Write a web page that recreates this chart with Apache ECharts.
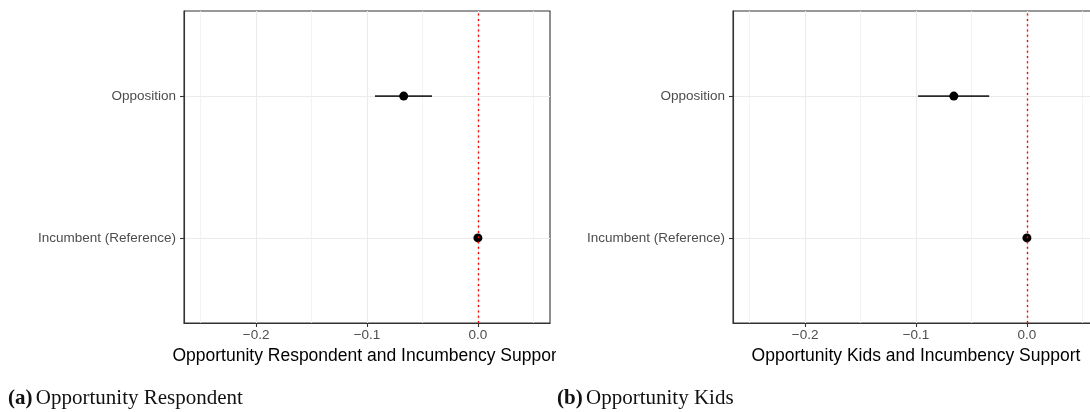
<!DOCTYPE html>
<html>
<head>
<meta charset="utf-8">
<script src="https://cdn.jsdelivr.net/npm/echarts@6/dist/echarts.min.js"></script>
<style>
html,body{margin:0;padding:0;background:#fff;}
#chart{width:1090px;height:412px;}
</style>
</head>
<body>
<div id="chart"></div>
<script>
// ---- data ----
var categories = ["Incumbent (Reference)", "Opposition"];
var respEstimate = [0, -0.0669];
var respLower = [0, -0.0928];
var respUpper = [0, -0.0414];
var kidsEstimate = [0, -0.0659];
var kidsLower = [0, -0.0981];
var kidsUpper = [0, -0.0340];
var xMajorTicks = [-0.2, -0.1, 0.0];
var xMinorTicks = [-0.25, -0.15, -0.05, 0.05];
var xLimits = [-0.265, 0.065];
var titles = ["Opportunity Respondent and Incumbency Support", "Opportunity Kids and Incumbency Support"];
var captionTags = ["(a)", "(b)"];
var captions = ["Opportunity Respondent", "Opportunity Kids"];
var refLine = 0;

var catPos = categories.map(function (c, i) { return i + 1; });

var chart = echarts.init(document.getElementById('chart'), null, {renderer: 'canvas'});

var axisTextColor = '#4d4d4d';
var axisFont = 'Liberation Sans, Arial, sans-serif';

function fmtTick(v) {
  var s = Number(v).toFixed(1);
  return s.replace('-', '\u2212');
}

var grids = [
  {left: 184, top: 11, width: 366, height: 312},
  {left: 733, top: 11, width: 366, height: 312}
];

var xAxes = [], yAxes = [], series = [];
var panelData = [
  {est: respEstimate, lo: respLower, hi: respUpper},
  {est: kidsEstimate, lo: kidsLower, hi: kidsUpper}
];

grids.forEach(function (g, p) {
  g.show = true;
  g.borderColor = '#333333';
  g.borderWidth = 1.1;
  g.backgroundColor = '#ffffff';
  g.containLabel = false;
  g.outerBoundsMode = 'none';
  xAxes.push({
    type: 'value', gridIndex: p, min: xLimits[0], max: xLimits[1],
    position: 'bottom',
    axisLine: {show: true, onZero: false, lineStyle: {color: '#333333', width: 1.1}},
    axisTick: {show: true, length: 4, customValues: xMajorTicks, lineStyle: {color: '#333333', width: 1.1}},
    axisLabel: {show: true, customValues: xMajorTicks, formatter: fmtTick, color: axisTextColor,
      fontFamily: axisFont, fontSize: 13.5, margin: 5},
    splitLine: {show: true, lineStyle: {color: '#ebebeb', width: 1.1}},
    name: titles[p], nameLocation: 'middle', nameGap: 20,
    nameTextStyle: {color: '#000000', fontFamily: axisFont, fontSize: 17.5}
  });
  xAxes.push({
    type: 'value', gridIndex: p, min: xLimits[0], max: xLimits[1],
    position: 'top',
    axisLine: {show: false},
    axisTick: {show: false, customValues: xMinorTicks},
    axisLabel: {show: false, customValues: xMinorTicks},
    splitLine: {show: true, lineStyle: {color: '#f0f0f0', width: 0.8}}
  });
  yAxes.push({
    type: 'value', gridIndex: p, min: 0.4, max: 2.6,
    axisLine: {show: true, onZero: false, lineStyle: {color: '#333333', width: 1.1}},
    axisTick: {show: true, length: 4, customValues: catPos, lineStyle: {color: '#333333', width: 1.1}},
    axisLabel: {show: true, customValues: catPos, color: axisTextColor, fontFamily: axisFont, fontSize: 13.5, margin: 8,
      formatter: function (v) { return categories[Math.round(v) - 1] || ''; }},
    splitLine: {show: true, lineStyle: {color: '#ebebeb', width: 1.1}}
  });

  var d = panelData[p];
  var barData = catPos.map(function (y, i) { return [d.lo[i], d.hi[i], y]; });
  var ptData = catPos.map(function (y, i) { return [d.est[i], y]; });

  series.push({
    type: 'custom', xAxisIndex: p * 2, yAxisIndex: p, z: 2,
    data: barData,
    encode: {x: [0, 1], y: 2},
    renderItem: function (params, api) {
      var a = api.coord([api.value(0), api.value(2)]);
      var b = api.coord([api.value(1), api.value(2)]);
      return {type: 'line', shape: {x1: a[0], y1: a[1], x2: b[0], y2: b[1]},
        style: {stroke: '#2a2a2a', lineWidth: 1.8}};
    },
    silent: true
  });
  series.push({
    type: 'scatter', xAxisIndex: p * 2, yAxisIndex: p, z: 3,
    data: ptData, symbol: 'circle', symbolSize: 9,
    itemStyle: {color: '#000000', opacity: 1}, silent: true
  });
  series.push({
    type: 'scatter', xAxisIndex: p * 2, yAxisIndex: p, z: 4,
    data: [],
    markLine: {
      silent: true, symbol: ['none', 'none'], label: {show: false},
      lineStyle: {color: '#ff0000', type: [2, 3.3], width: 1.4, opacity: 1},
      data: [{xAxis: refLine}],
      animation: false
    }
  });
});

var capRich = {
  b: {fontFamily: 'Liberation Serif, serif', fontWeight: 'bold', fontSize: 21, fill: '#111'},
  n: {fontFamily: 'Liberation Serif, serif', fontSize: 21, fill: '#111'}
};

var option = {
  animation: false,
  backgroundColor: '#ffffff',
  grid: grids,
  xAxis: xAxes,
  yAxis: yAxes,
  series: series,
  graphic: [
    {type: 'rect', left: 556, top: 338, shape: {width: 20, height: 30}, style: {fill: '#ffffff'}, z: 100},
    {type: 'text', left: 8, top: 388, z: 101,
      style: {text: '{b|' + captionTags[0] + '} {n|' + captions[0] + '}', rich: capRich}},
    {type: 'text', left: 557, top: 388, z: 101,
      style: {text: '{b|' + captionTags[1] + '} {n|' + captions[1] + '}', rich: capRich}}
  ]
};
chart.setOption(option);
</script>
</body>
</html>
